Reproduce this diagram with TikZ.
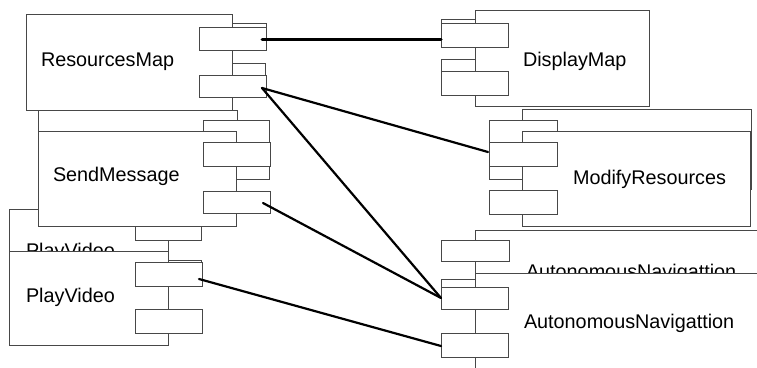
\documentclass[tikz,border=0pt]{standalone}
\usepackage{fontspec}
\setmainfont{Liberation Sans}
\usetikzlibrary{calc}

\tikzset{
  box/.style={draw=black!72, fill=white, line width=1pt, inner sep=0pt,
              outer sep=0pt, anchor=north west},
  compname/.style={anchor=base west, inner sep=0pt, outer sep=0pt,
                   font=\fontsize{19.8}{24}\selectfont},
  wire/.style={draw=black, line width=2.2pt, line cap=round},
  thickwire/.style={wire, line width=3pt},
}

% rectangle node from its top-left and bottom-right corners (pixel units)
\newcommand{\umlrect}[5]{%
  \node[box, minimum width={#4-#2}, minimum height={#5-#3}] (#1) at (#2,#3) {};}

\begin{document}
\begin{tikzpicture}[x=1pt,y=-1pt]
  \useasboundingbox (0,0) rectangle (757,367);
  \fill[white] (0,0) rectangle (757,367);
  \clip (0,0) rectangle (757,367);

  % ---------- left column ----------
  % SendMessage, earlier placement
  \umlrect{smg}{38}{110}{237}{170}
  \umlrect{smg-p1}{203}{120}{269}{143}
  \umlrect{smg-p2}{203}{156}{269}{179}

  % ResourcesMap, earlier port placement
  \umlrect{rmg-p1}{199}{23}{266}{47}
  \umlrect{rmg-p2}{199}{63}{265}{87}

  % ResourcesMap
  \umlrect{rm}{26}{14}{232}{110}
  \node[compname] (rm-t) at (41,66) {ResourcesMap};
  \umlrect{rm-p1}{199}{27}{266}{50}
  \umlrect{rm-p2}{199}{75}{266}{97}

  % PlayVideo, earlier placement
  \umlrect{pvg}{9}{209}{168}{290}
  \node[compname] (pvg-t) at (26,257) {PlayVideo};
  \umlrect{pvg-p1}{135}{216}{201}{240}
  \umlrect{pvg-p2}{135}{260}{201}{284}

  % SendMessage
  \umlrect{sm}{38}{131}{236}{226}
  \node[compname] (sm-t) at (53,181) {SendMessage};
  \umlrect{sm-p1}{203}{142}{270}{166}
  \umlrect{sm-p2}{203}{191}{270}{213}

  % PlayVideo
  \umlrect{pv}{9}{251}{168}{345}
  \node[compname] (pv-t) at (26,302) {PlayVideo};
  \umlrect{pv-p1}{135}{262}{202}{286}
  \umlrect{pv-p2}{135}{309}{202}{333}

  % ---------- right column ----------
  % DisplayMap, earlier port placement
  \umlrect{dmg-p1}{441}{19}{508}{43}
  \umlrect{dmg-p2}{441}{59}{508}{83}

  % DisplayMap
  \umlrect{dm}{475}{10}{649}{106}
  \node[compname] (dm-t) at (523,66) {DisplayMap};
  \umlrect{dm-p1}{441}{23}{508}{47}
  \umlrect{dm-p2}{441}{71}{508}{95}

  % ModifyResources, earlier placement
  \umlrect{mrg}{522}{109}{751}{189}
  \umlrect{mrg-p1}{489}{120}{557}{143}
  \umlrect{mrg-p2}{489}{156}{557}{179}

  % ModifyResources
  \umlrect{mr}{522}{131}{750}{226}
  \node[compname] (mr-t) at (573,184) {ModifyResources};
  \umlrect{mr-p1}{489}{142}{557}{166}
  \umlrect{mr-p2}{489}{190}{557}{214}

  % AutonomousNavigattion, earlier placement
  \umlrect{ang}{475}{230}{800}{330}
  \node[compname] (ang-t) at (526,278) {AutonomousNavigattion};
  \umlrect{ang-p1}{441}{240}{509}{261}
  \umlrect{ang-p2}{441}{279}{508}{303}

  % AutonomousNavigattion
  \umlrect{an}{475}{273}{800}{420}
  \node[compname] (an-t) at (524,328) {AutonomousNavigattion};
  \umlrect{an-p1}{441}{287}{508}{309}
  \umlrect{an-p2}{441}{333}{508}{357}

  % ---------- connectors ----------
  \draw[thickwire] ($(rm-p1.east)+(-4,0.5)$) -- ($(dm-p1.west)+(0,4)$);
  \draw[wire] ($(rm-p2.east)+(-4,2)$) -- ($(mr-p1.west)+(-1,-2)$);
  \draw[wire] ($(rm-p2.east)+(-4,2)$) -- (an-p1.west);
  \draw[wire] ($(sm-p2.east)+(-7,1)$) -- (an-p1.west);
  \draw[wire] ($(pv-p1.east)+(-3,5)$) -- ($(an-p2.west)+(0,1)$);
\end{tikzpicture}
\end{document}
